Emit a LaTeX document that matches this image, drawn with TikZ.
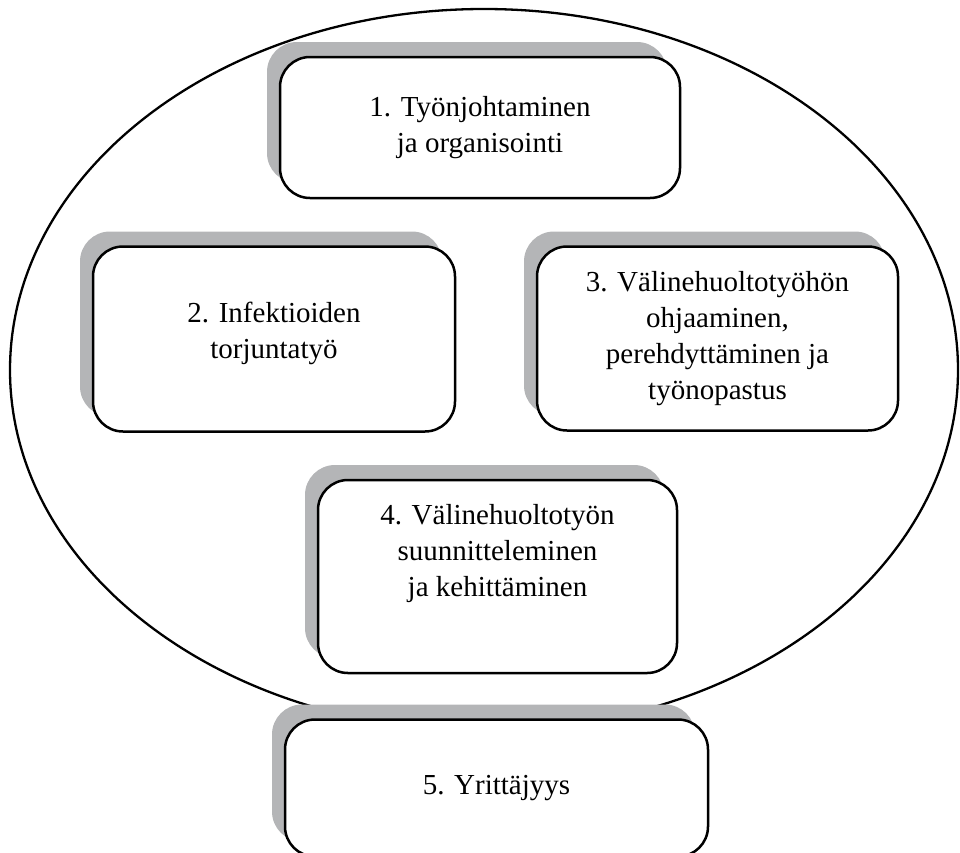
\documentclass[tikz,border=0pt]{standalone}
\usepackage{fontspec}
\setmainfont{Liberation Serif}
\usetikzlibrary{positioning, shadows}
\definecolor{shadowgray}{RGB}{180,181,183}

\begin{document}
\begin{tikzpicture}[
  x=1pt, y=-1pt,
  every node/.style={font=\fontsize{29}{36}\selectfont, align=center},
  box/.style={draw, rounded corners=30pt, fill=white, line width=2.5pt,
    drop shadow={shadow xshift=-13pt, shadow yshift=15pt, fill=shadowgray, opacity=1}},
  ring/.style={draw, line width=2.3pt}
]
\useasboundingbox (0,0) rectangle (960,852);

% Ellipse behind the boxes
\draw[ring] (484,370) ellipse [x radius=474, y radius=361];

% Nodes
\node[box, minimum width=400pt, minimum height=141pt] (organ) at (480,127.5)
  {1. Työnjohtaminen\\ ja organisointi};
\node[box, minimum width=362pt, minimum height=185pt, below=46pt of organ, xshift=-206pt] (infection)
  {2. Infektioiden\\ torjuntatyö\\[-18pt]};
\node[box, minimum width=361pt, minimum height=184pt, below=46pt of organ, xshift=237.5pt] (guidance)
  {3. Välinehuoltotyöhön\\ ohjaaminen,\\ perehdyttäminen ja\\ työnopastus};
\node[box, minimum width=359pt, minimum height=193pt, below=46pt of infection, xshift=223.5pt] (planning)
  {4. Välinehuoltotyön\\ suunnitteleminen\\ ja kehittäminen\\[16pt]};
\node[box, minimum width=423pt, minimum height=137pt, below=44pt of planning, xshift=-1pt] (entrepreneur)
  {5. Yrittäjyys};

\end{tikzpicture}
\end{document}
